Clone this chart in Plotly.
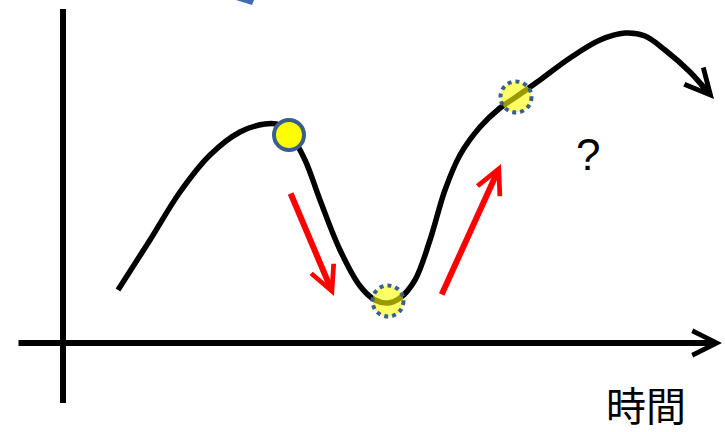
import plotly.graph_objects as go

W, H = 725, 432

# Curve (schematic price over time), read in picture units
curve_x = [118, 150, 180, 210, 240, 265, 280, 290, 305, 320, 340, 360, 375, 388, 400, 415, 430, 445, 460, 480, 500, 516, 540, 570, 600, 625, 645, 665, 690, 706]
curve_y = [290, 240, 192, 155, 132, 124, 125, 134, 160, 200, 250, 286, 300, 303, 298, 280, 240, 190, 155, 127, 108, 97, 80, 58, 40, 33, 36, 50, 72, 90]

# Highlight points
solid_pt_x = [289]
solid_pt_y = [135]
soft_pt_x = [388, 516]
soft_pt_y = [301, 97]
soft_r = 15.5

# Red arrows: (tail_x, tail_y, tip_x, tip_y)
red_arrows = [(290, 192, 334, 296), (441, 296, 501, 164)]

fig = go.Figure()

fig.add_trace(go.Scatter(x=curve_x, y=curve_y, mode="lines",
                         line=dict(color="black", width=5.5, shape="spline", smoothing=1.0),
                         hoverinfo="skip", showlegend=False))

fig.add_trace(go.Scatter(x=solid_pt_x, y=solid_pt_y, mode="markers",
                         marker=dict(size=30, color="#FFFF00", line=dict(color="#3A5F8F", width=4)),
                         hoverinfo="skip", showlegend=False))

fig.add_trace(go.Scatter(x=soft_pt_x, y=soft_pt_y, mode="markers",
                         marker=dict(size=2 * soft_r, color="rgba(255,255,0,0.6)", line=dict(width=0)),
                         hoverinfo="skip", showlegend=False))

shapes = []
for cx, cy in zip(soft_pt_x, soft_pt_y):
    shapes.append(dict(type="circle", xref="x", yref="y",
                       x0=cx - soft_r, x1=cx + soft_r, y0=cy - soft_r, y1=cy + soft_r,
                       line=dict(color="#3A5F8F", width=4, dash="dot"), layer="above"))
# vertical axis
shapes.append(dict(type="line", xref="x", yref="y", x0=63, x1=63, y0=9, y1=403,
                   line=dict(color="black", width=6)))
# blue fragment at top edge
shapes.append(dict(type="path", xref="x", yref="y", path="M 236,0 L 254,0 L 252,5 Z",
                   fillcolor="#3F6DB3", line=dict(width=0)))

annotations = []
# horizontal axis arrow
annotations.append(dict(x=722, y=343, ax=17, ay=343, xref="x", yref="y", axref="x", ayref="y",
                        showarrow=True, arrowhead=5, arrowsize=0.8, arrowwidth=6,
                        arrowcolor="black", text="", standoff=0))
# curve end arrow
annotations.append(dict(x=714, y=99, ax=700, ay=83, xref="x", yref="y", axref="x", ayref="y",
                        showarrow=True, arrowhead=5, arrowsize=0.9, arrowwidth=5.5,
                        arrowcolor="black", text="", standoff=0))
for tx, ty, hx, hy in red_arrows:
    annotations.append(dict(x=hx, y=hy, ax=tx, ay=ty, xref="x", yref="y", axref="x", ayref="y",
                            showarrow=True, arrowhead=5, arrowsize=0.8, arrowwidth=6,
                            arrowcolor="#FF0000", text="", standoff=0))

annotations.append(dict(x=588, y=154, xref="x", yref="y", text="?", showarrow=False,
                        font=dict(family="Liberation Sans, Arial", size=44, color="black"),
                        xanchor="center", yanchor="middle"))
annotations.append(dict(x=646, y=404, xref="x", yref="y", text="時間", showarrow=False,
                        font=dict(family="Noto Sans CJK JP", size=40, color="black"),
                        xanchor="center", yanchor="middle"))

fig.update_layout(
    width=W, height=H,
    margin=dict(l=0, r=0, t=0, b=0),
    paper_bgcolor="white", plot_bgcolor="white",
    xaxis=dict(range=[0, W], visible=False, fixedrange=True),
    yaxis=dict(range=[H, 0], visible=False, fixedrange=True),
    shapes=shapes, annotations=annotations,
    showlegend=False,
)

fig.write_html("out.html", config={"staticPlot": True},
               post_script="document.body.style.margin='0';document.body.style.overflow='hidden';")
